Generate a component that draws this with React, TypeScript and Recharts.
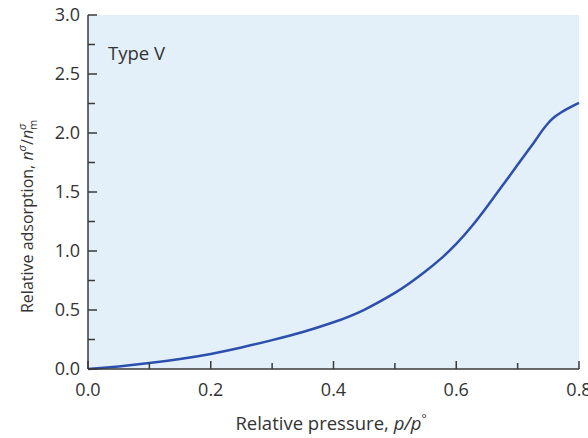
import * as React from "react"
import { CartesianGrid, Label, Line, LineChart, XAxis, YAxis } from "recharts"

// page has the default 8px body margin, drop it so the chart sits at 0,0
document.body.style.margin = "0"

// Type V isotherm
const pressure = [0, 0.05, 0.1, 0.15, 0.2, 0.25, 0.3, 0.35, 0.4, 0.45, 0.5, 0.525, 0.55, 0.575, 0.6, 0.625, 0.65, 0.675, 0.7, 0.72, 0.73, 0.74, 0.75, 0.76, 0.77, 0.78, 0.79, 0.8]
const adsorption = [0, 0.022, 0.05, 0.085, 0.128, 0.182, 0.245, 0.314, 0.396, 0.502, 0.645, 0.73, 0.828, 0.935, 1.06, 1.207, 1.375, 1.552, 1.73, 1.872, 1.945, 2.02, 2.085, 2.135, 2.172, 2.203, 2.23, 2.255]

const xTicks = [0, 0.1, 0.2, 0.3, 0.4, 0.5, 0.6, 0.7, 0.8]
const yTicks = [0, 0.25, 0.5, 0.75, 1, 1.25, 1.5, 1.75, 2, 2.25, 2.5, 2.75, 3]

const font = "'Open Sans', 'Noto Sans', sans-serif"
const axisColor = "#3a3a3a"
const textColor = "#333"

const chartData = pressure.map((p, i) => ({ p, n: adsorption[i] }))

const isMajorX = (v: number) => Math.round(v * 10) % 2 === 0
const isMajorY = (v: number) => Math.round(v * 100) % 50 === 0

const XTick = (props: any) => {
    const { x, y, payload } = props
    const major = isMajorX(payload.value)
    return (
        <g>
            <line x1={x} x2={x} y1={y} y2={y - (major ? 8 : 6)} stroke={axisColor} strokeWidth={1.5} />
            {major && (
                <text x={x} y={y + 21} dy="0.36em" textAnchor="middle" fontSize={18} fontFamily={font} fill={textColor}>
                    {payload.value.toFixed(1)}
                </text>
            )}
        </g>
    )
}

const YTick = (props: any) => {
    const { x, y, payload } = props
    const axisX = x + 8
    const major = isMajorY(payload.value)
    return (
        <g>
            <line x1={axisX} x2={axisX + (major ? 9 : 7)} y1={y} y2={y} stroke={axisColor} strokeWidth={1.5} />
            {major && (
                <text x={x} y={y} dy="0.36em" textAnchor="end" fontSize={18} fontFamily={font} fill={textColor}>
                    {payload.value.toFixed(1)}
                </text>
            )}
        </g>
    )
}

const YTitle = () => (
    <g>
        <text x={33} y={313} transform="rotate(-90 33 313)" fontSize={16} fontFamily={font} fill={textColor}>
            Relative adsorption, <tspan fontStyle="italic">n</tspan>
            <tspan fontStyle="italic" fontSize={11} dy={-7}>σ</tspan>
            <tspan dy={7}>/</tspan>
            <tspan fontStyle="italic">n</tspan>
            <tspan fontStyle="italic" fontSize={11} dy={-7}>σ</tspan>
            <tspan fontSize={11} dx={-6.5} dy={11}>m</tspan>
        </text>
        <text x={108} y={60} fontSize={18.5} fontFamily={font} fill={textColor}>Type V</text>
    </g>
)

const XTitle = () => (
    <text x={331} y={430} textAnchor="middle" fontSize={18.5} fontFamily={font} fill={textColor}>
        Relative pressure, <tspan fontStyle="italic">p/p</tspan>
        <tspan fontSize={12} dy={-7}>°</tspan>
    </text>
)

export default function App() {
    return (
        <div style={{ width: 588, height: 438, background: "#fff" }}>
            <LineChart width={588} height={438} data={chartData} margin={{ top: 15, right: 9, left: 0, bottom: 0 }}>
                <CartesianGrid horizontal={false} vertical={false} fill="#e3eff9" fillOpacity={1} />
                <XAxis
                    dataKey="p"
                    type="number"
                    domain={[0, 0.8]}
                    ticks={xTicks}
                    interval={0}
                    height={69}
                    tickSize={0}
                    tickMargin={0}
                    tick={<XTick />}
                    axisLine={{ stroke: axisColor, strokeWidth: 1.5 }}
                    tickLine={false}
                >
                    <Label content={<XTitle />} />
                </XAxis>
                <YAxis
                    type="number"
                    domain={[0, 3]}
                    ticks={yTicks}
                    interval={0}
                    width={88}
                    tickSize={0}
                    tickMargin={8}
                    tick={<YTick />}
                    axisLine={{ stroke: axisColor, strokeWidth: 1.5 }}
                    tickLine={false}
                >
                    <Label content={<YTitle />} />
                </YAxis>
                <Line
                    type="natural"
                    dataKey="n"
                    stroke="#2c4fae"
                    strokeWidth={2.5}
                    dot={false}
                    isAnimationActive={false}
                />
            </LineChart>
        </div>
    )
}
